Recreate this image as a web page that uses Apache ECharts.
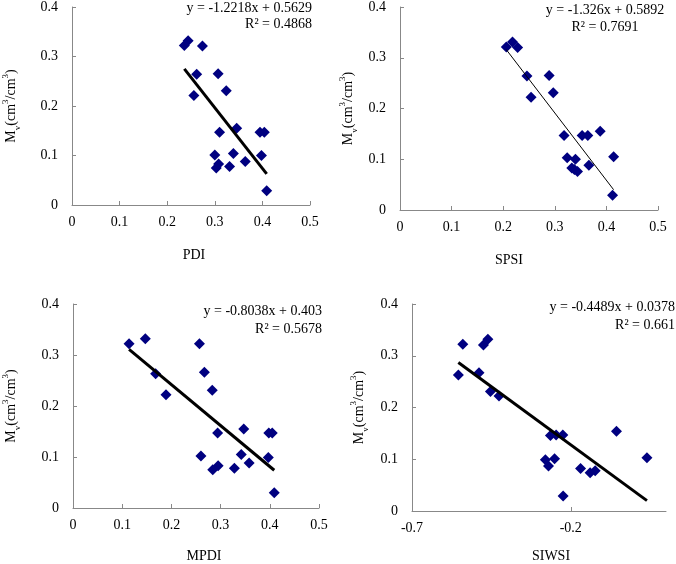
<!DOCTYPE html>
<html>
<head>
<meta charset="utf-8">
<script src="https://cdn.jsdelivr.net/npm/echarts@6/dist/echarts.min.js"></script>
<style>html,body{margin:0;padding:0;background:#fff;}#c{width:676px;height:564px;}</style>
</head>
<body>
<div id="c"></div>
<script>
// ---- data ----
var pdiX = [0.236,0.244,0.274,0.262,0.256,0.307,0.324,0.346,0.310,0.395,0.404,0.300,0.339,0.398,0.364,0.303,0.308,0.331,0.409];
var pdiY = [0.322,0.332,0.321,0.264,0.221,0.265,0.231,0.155,0.147,0.147,0.147,0.101,0.104,0.100,0.088,0.075,0.083,0.078,0.029];
var pdiTrend = [[0.236,0.275],[0.409,0.063]];

var spsiX = [0.206,0.218,0.228,0.246,0.254,0.289,0.297,0.318,0.353,0.364,0.388,0.324,0.340,0.333,0.338,0.344,0.366,0.414,0.412];
var spsiY = [0.321,0.331,0.320,0.264,0.222,0.265,0.231,0.147,0.147,0.147,0.155,0.103,0.100,0.083,0.080,0.076,0.088,0.105,0.029];
var spsiTrend = [[0.206,0.316],[0.414,0.040]];

var mpdiX = [0.114,0.147,0.168,0.189,0.257,0.267,0.283,0.294,0.347,0.398,0.405,0.260,0.342,0.397,0.358,0.284,0.295,0.328,0.409];
var mpdiY = [0.322,0.332,0.263,0.222,0.322,0.266,0.231,0.147,0.155,0.147,0.147,0.102,0.105,0.099,0.088,0.075,0.083,0.078,0.030];
var mpdiTrend = [[0.114,0.311],[0.409,0.074]];

var siwsiX = [-0.554,-0.540,-0.489,-0.475,-0.461,-0.453,-0.426,-0.280,-0.270,-0.264,-0.251,-0.246,-0.225,-0.224,-0.169,-0.139,-0.123,-0.056,0.040];
var siwsiY = [0.263,0.322,0.267,0.321,0.332,0.231,0.222,0.099,0.087,0.146,0.101,0.147,0.147,0.029,0.082,0.074,0.078,0.154,0.103];
var siwsiTrend = [[-0.554,0.287],[0.040,0.020]];

var xNames = ['PDI','SPSI','MPDI','SIWSI'];
var eqLine1 = ['y = -1.2218x + 0.5629','y = -1.326x + 0.5892','y = -0.8038x + 0.403','y = -0.4489x + 0.0378'];
var eqLine2 = ['R\u00b2 = 0.4868','R\u00b2 = 0.7691','R\u00b2 = 0.5678','R\u00b2 = 0.661'];
var yTicks = [0,0.1,0.2,0.3,0.4];
var xTicks = [0,0.1,0.2,0.3,0.4,0.5];
var siwsiTicks = [-0.7,-0.2];

// ---- chart ----
var FONT = 'Liberation Serif';
var AX = '#888888';
function zip(a,b){return a.map(function(v,i){return [v,b[i]];});}

var grids = [
  {left:69, top:6, width:241, height:199},
  {left:400, top:5, width:258, height:205},
  {left:70, top:304, width:249, height:208},
  {left:412, top:304, width:254, height:208}
];
var yNameGap = [52, 43, 53, 44];
var xNameGap = [43, 43, 41, 38];
var xNamePad = [[0,0,0,6],[0,40,0,0],[0,0,0,16],[0,0,0,24]];

var yName = '{a|M}{s|v}{a|(cm}{p|3}{a|/cm}{p|3}{a|)}';
var richY = {
  a:{fontFamily:FONT,fontSize:14,color:'#000',lineHeight:18,verticalAlign:'middle'},
  s:{fontFamily:FONT,fontSize:9,color:'#000',lineHeight:18,verticalAlign:'bottom',padding:[0,0,-2,0]},
  p:{fontFamily:FONT,fontSize:9,color:'#000',lineHeight:18,verticalAlign:'top',padding:[-1,0,0,0]}
};

var xAxes = [], yAxes = [], series = [];
var sets = [[pdiX,pdiY,pdiTrend,3],[spsiX,spsiY,spsiTrend,1],[mpdiX,mpdiY,mpdiTrend,3],[siwsiX,siwsiY,siwsiTrend,3]];
for (var i=0;i<4;i++){
  var xa = {
    type:'value', gridIndex:i, min:0, max:0.5, interval:0.1,
    name:xNames[i], nameLocation:'middle', nameGap:xNameGap[i],
    nameTextStyle:{fontFamily:FONT,fontSize:14,color:'#000',padding:xNamePad[i]},
    axisLine:{show:true,onZero:false,lineStyle:{color:AX,width:1}},
    axisTick:{show:true,inside:true,length:4,lineStyle:{color:AX}},
    axisLabel:{fontFamily:FONT,fontSize:14,color:'#000',margin:10},
    splitLine:{show:false}
  };
  if (i===3){
    xa.min=-0.7; xa.max=0.1; delete xa.interval;
    xa.axisLabel.customValues = siwsiTicks;
    xa.axisTick.customValues = siwsiTicks;
  }
  xAxes.push(xa);
  yAxes.push({
    type:'value', gridIndex:i, min:0, max:0.4, interval:0.1,
    name:yName, nameLocation:'middle', nameGap:yNameGap[i], nameRotate:90,
    nameTextStyle:{rich:richY},
    axisLine:{show:true,onZero:false,lineStyle:{color:AX,width:1}},
    axisTick:{show:true,inside:true,length:4,lineStyle:{color:AX}},
    axisLabel:{fontFamily:FONT,fontSize:14,color:'#000',margin:14},
    splitLine:{show:false}
  });
  var s = sets[i];
  series.push({
    type:'scatter', xAxisIndex:i, yAxisIndex:i, data:zip(s[0],s[1]),
    symbol:'diamond', symbolSize:11, itemStyle:{color:'#000080',opacity:1}, z:3
  });
  series.push({
    type:'line', xAxisIndex:i, yAxisIndex:i, data:s[2], symbol:'none',
    lineStyle:{color:'#000',width:s[3]}, z:4, silent:true
  });
}

var eqPos = [
  {x1:312,y1:8,x2:312,y2:24,align:'right'},
  {x1:605,y1:10,x2:605,y2:27,align:'center'},
  {x1:322,y1:311,x2:322,y2:329,align:'right'},
  {x1:675,y1:307,x2:675,y2:325,align:'right'}
];
var graphics = [];
for (var j=0;j<4;j++){
  var p = eqPos[j];
  graphics.push({type:'text',x:p.x1,y:p.y1,style:{text:eqLine1[j],font:'14px "Liberation Serif"',fill:'#000',textAlign:p.align,textVerticalAlign:'middle'}});
  graphics.push({type:'text',x:p.x2,y:p.y2,style:{text:eqLine2[j],font:'14px "Liberation Serif"',fill:'#000',textAlign:p.align,textVerticalAlign:'middle'}});
}

var chart = echarts.init(document.getElementById('c'), null, {renderer:'canvas'});
chart.setOption({
  animation:false,
  backgroundColor:'#fff',
  grid:grids,
  xAxis:xAxes, yAxis:yAxes, series:series, graphic:graphics
});
</script>
</body>
</html>
